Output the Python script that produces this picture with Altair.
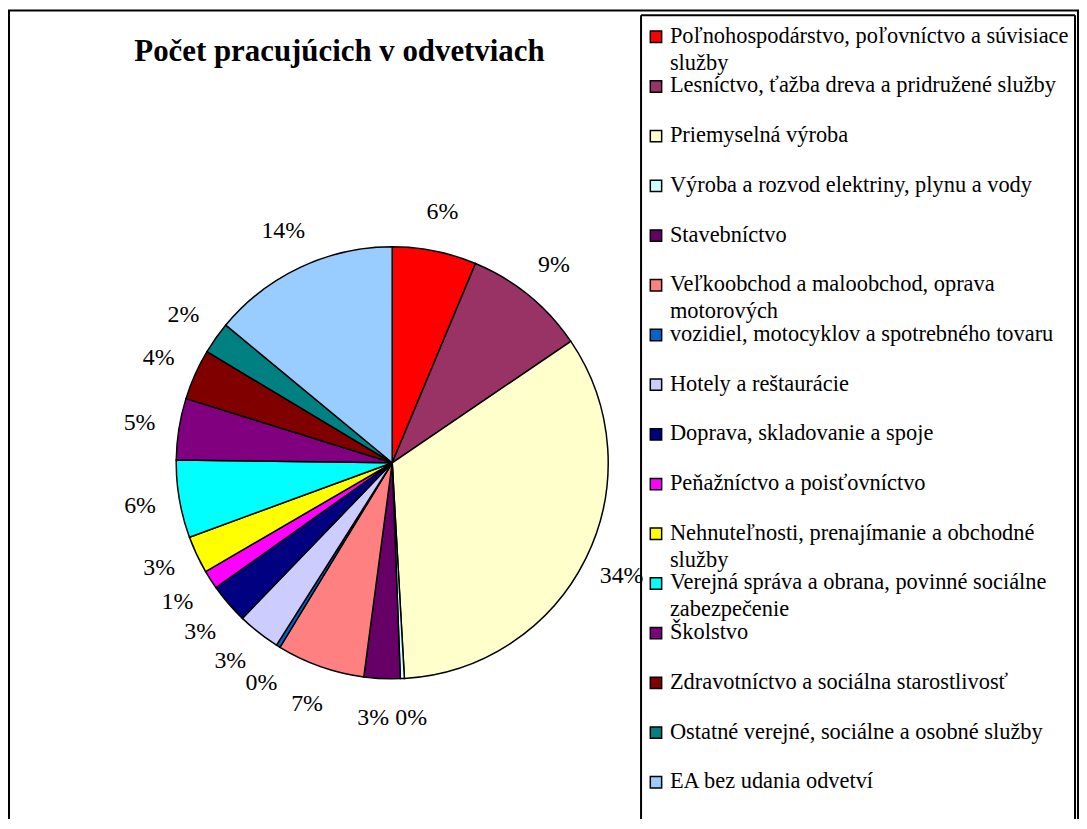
import math
import altair as alt
import pandas as pd

categories = [
    "Poľnohospodárstvo, poľovníctvo a súvisiace\nslužby",
    "Lesníctvo, ťažba dreva a pridružené služby",
    "Priemyselná výroba",
    "Výroba a rozvod elektriny, plynu a vody",
    "Stavebníctvo",
    "Veľkoobchod a maloobchod, oprava\nmotorových",
    " vozidiel, motocyklov a spotrebného tovaru",
    "Hotely a reštaurácie",
    "Doprava, skladovanie a spoje",
    "Peňažníctvo a poisťovníctvo",
    "Nehnuteľnosti, prenajímanie a obchodné\nslužby",
    "Verejná správa a obrana, povinné sociálne\nzabezpečenie",
    "Školstvo",
    "Zdravotníctvo a sociálna starostlivosť",
    "Ostatné verejné, sociálne a osobné služby",
    "EA bez udania odvetví",
]
shares = [6.3, 9.2, 33.6, 0.3, 2.7, 6.6, 0.3, 3.2, 3.0, 1.4, 2.8, 5.8, 4.6, 3.8, 2.4, 14.0]
colors = ["#FF0000", "#993366", "#FFFFCC", "#CCFFFF", "#660066", "#FF8080", "#0066CC",
          "#CCCCFF", "#000080", "#FF00FF", "#FFFF00", "#00FFFF", "#800080", "#800000",
          "#008080", "#99CCFF"]
title_text = "Počet pracujúcich v odvetviach"

total = sum(shares)

# label angles: middle of each slice, then spread apart so that labels don't collide
mids = []
acc = 0.0
for v in shares:
    ang = v / total * 360.0
    mids.append(acc + ang / 2)
    acc += ang
MIN_SEP = 8.5
for _ in range(100):
    for i in range(len(mids) - 1):
        gap = mids[i + 1] - mids[i]
        if gap < MIN_SEP:
            d = (MIN_SEP - gap) / 2
            mids[i] -= d
            mids[i + 1] += d

df = pd.DataFrame({
    "cat": categories,
    "shown": [("\u00a0" + c[1:]) if c.startswith(" ") else c for c in categories],
    "val": shares,
    "idx": list(range(len(categories))),
    "pct": [f"{round(v / total * 100):.0f}%" for v in shares],
    "lab_angle": mids,
})

W, H = 1076, 813
CX, CY, R = 386, 455, 217
SERIF = "Liberation Serif"

color = alt.Color("cat:N", scale=alt.Scale(domain=categories, range=colors), legend=None)
base = alt.Chart(df)

pie = base.mark_arc(outerRadius=R, stroke="black", strokeWidth=1.5).encode(
    theta=alt.Theta("val:Q", stack=True),
    color=color,
    order=alt.Order("idx:Q"),
    x=alt.value(CX), y=alt.value(CY),
)

pie_labels = base.mark_text(radius=257, font=SERIF, fontSize=24, color="black").encode(
    theta=alt.Theta("lab_angle:Q", scale=alt.Scale(domain=[0, 360], range=[0, 2 * math.pi])),
    text="pct:N",
    x=alt.value(CX), y=alt.value(CY),
)

ys = alt.Y("cat:N", sort=categories, axis=None,
           scale=alt.Scale(type="point", domain=categories, range=[27, 776], padding=0))

leg_sym = base.mark_point(shape="square", filled=True, size=130, stroke="black",
                          strokeWidth=1.5, opacity=1).encode(
    x=alt.value(651), y=ys, color=color,
)
leg_txt = base.mark_text(align="left", baseline="top", dy=-12, font=SERIF, fontSize=22.5,
                         lineBreak="\n", lineHeight=27, color="black").encode(
    x=alt.value(665), y=ys, text="shown:N",
)

one = alt.Chart(pd.DataFrame({"t": [title_text]}))
title = one.mark_text(font=SERIF, fontSize=31, fontWeight="bold", color="black").encode(
    x=alt.value(333), y=alt.value(42), text="t:N")

def vline(x, y1, y2, w=2):
    return one.mark_rule(color="black", strokeWidth=w).encode(
        x=alt.value(x), y=alt.value(y1), y2=alt.value(y2))

def hline(y, x1, x2, w=2):
    return one.mark_rule(color="black", strokeWidth=w).encode(
        y=alt.value(y), x=alt.value(x1), x2=alt.value(x2))

borders = [
    vline(1, 0, H), hline(0.5, 0, 1076), vline(1075, 0, H),
    vline(636, 5.5, H), hline(5.5, 636, 1072), vline(1072, 5.5, H),
]

chart = alt.layer(pie, pie_labels, leg_sym, leg_txt, title, *borders).resolve_scale(
    theta="independent"
).properties(
    width=W, height=H, autosize=alt.AutoSizeParams(type="none"), padding=0,
).configure_view(stroke=None)

chart.save("out.html", embed_options={"renderer": "svg", "actions": False})
